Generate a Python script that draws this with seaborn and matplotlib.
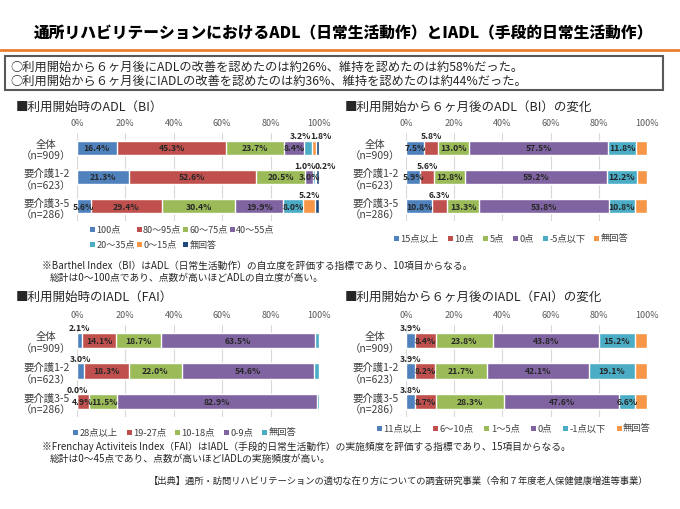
import pandas as pd
import matplotlib
matplotlib.use("Agg")
import matplotlib.pyplot as plt
from matplotlib.patches import Rectangle
from matplotlib.lines import Line2D
import seaborn as sns

sns.set_theme(style="white")
plt.rcParams['font.family'] = ['Noto Sans CJK JP', 'DejaVu Sans']

# ----------------------------------------------------------------------------
# Données
# ----------------------------------------------------------------------------
groups = ['全体\n（n=909）', '要介護1-2\n（n=623）', '要介護3-5\n（n=286）']

adl_start_cats = ['100点', '80〜95点', '60〜75点', '40〜55点', '20〜35点', '0〜15点', '無回答']
adl_start_all = [16.4, 45.3, 23.7, 8.4, 3.2, 1.8, 1.2]
adl_start_12 = [21.3, 52.6, 20.5, 3.0, 1.0, 0.2, 1.4]
adl_start_35 = [5.6, 29.4, 30.4, 19.9, 8.0, 5.2, 1.5]

adl_chg_cats = ['15点以上', '10点', '5点', '0点', '-5点以下', '無回答']
adl_chg_all = [7.5, 5.8, 13.0, 57.5, 11.8, 4.4]
adl_chg_12 = [5.9, 5.6, 12.8, 59.2, 12.2, 4.3]
adl_chg_35 = [10.8, 6.3, 13.3, 53.8, 10.8, 5.0]

iadl_start_cats = ['28点以上', '19-27点', '10-18点', '0-9点', '無回答']
iadl_start_all = [2.1, 14.1, 18.7, 63.5, 1.6]
iadl_start_12 = [3.0, 18.3, 22.0, 54.6, 2.1]
iadl_start_35 = [0.0, 4.9, 11.5, 82.9, 0.7]

iadl_chg_cats = ['11点以上', '6〜10点', '1〜5点', '0点', '-1点以下', '無回答']
iadl_chg_all = [3.9, 8.4, 23.8, 43.8, 15.2, 4.9]
iadl_chg_12 = [3.9, 8.2, 21.7, 42.1, 19.1, 5.0]
iadl_chg_35 = [3.8, 8.7, 28.3, 47.6, 6.6, 5.0]

# couleurs Office
BLUE, RED, GREEN, PURPLE = '#4F81BD', '#C0504D', '#9BBB59', '#8064A2'
AQUA, ORANGE, NAVY = '#4BACC6', '#F79646', '#1F497D'
TXT = '#262626'

W, H = 680, 510


def fx(px):
    return px / W


def fy(py):
    return 1 - py / H


def stacked(ax, cats, rows, colors, inside, above, nudge, bar_w=0.48):
    """Barres empilées horizontales (cumul dessiné du total vers le 1er segment)."""
    df = pd.DataFrame(rows, index=groups, columns=cats)
    cum = df.cumsum(axis=1)
    for i in range(len(cats) - 1, -1, -1):
        sns.barplot(x=cum.iloc[:, i].values, y=groups, color=colors[i],
                    orient='h', width=bar_w, saturation=1, errorbar=None, ax=ax)

    for r in range(len(groups)):
        for i in range(len(cats)):
            v = df.iloc[r, i]
            c = cum.iloc[r, i] - v / 2
            txt = f"{v:.1f}%"
            dx = nudge.get((r, i), 0)
            if (r, i) in above:
                ax.annotate(txt, xy=(c, r - bar_w / 2), xytext=(dx, 0.3),
                            textcoords='offset points', ha='center', va='bottom',
                            fontsize=6.2, fontweight='bold', color=TXT,
                            annotation_clip=False)
            elif (r, i) in inside:
                ax.annotate(txt, xy=(c, r), xytext=(dx, 0), textcoords='offset points',
                            ha='center', va='center', fontsize=6.2,
                            fontweight='bold', color=TXT, annotation_clip=False)

    ax.set_xlim(0, 100)
    ax.set_ylim(2.5, -0.5)
    ax.set_xticks(range(0, 101, 20))
    ax.set_xticklabels([f"{t}%" for t in range(0, 101, 20)])
    ax.xaxis.tick_top()
    ax.tick_params(axis='x', length=0, pad=4, labelsize=6.5, labelcolor='#595959')
    ax.tick_params(axis='y', length=0, pad=4, labelsize=7.5, labelcolor='#404040')
    for lab in ax.get_yticklabels():
        lab.set_multialignment('center')
    ax.grid(axis='x', color='#D9D9D9', lw=0.8)
    ax.grid(axis='y', visible=False)
    ax.set_axisbelow(True)
    for s in ax.spines.values():
        s.set_visible(False)
    ax.set_xlabel('')
    ax.set_ylabel('')


def legend_row(fig, cats, colors, x, y, gap=10, step=None, fs=6.7):
    """Légende façon Excel : carré + texte, sur une ligne."""
    rend = fig.canvas.get_renderer()
    cx = x
    for cat, col in zip(cats, colors):
        fig.add_artist(Rectangle((fx(cx), fy(y + 2.5)), fx(5), 5 / H,
                                 transform=fig.transFigure, facecolor=col, edgecolor='none'))
        t = fig.text(fx(cx + 6.5), fy(y), cat, ha='left', va='center', fontsize=fs, color='#404040')
        if step is None:
            cx += 6.5 + t.get_window_extent(renderer=rend).width + gap
        else:
            cx += step


def idx_set(rows_idx, seg_idx):
    return {(r, i) for r in rows_idx for i in seg_idx}


fig = plt.figure(figsize=(W / 100, H / 100), dpi=100)

# ----------------------------------------------------------------------------
# Titre + encadré
# ----------------------------------------------------------------------------
fig.text(fx(343), fy(34), '通所リハビリテーションにおけるADL（日常生活動作）とIADL（手段的日常生活動作）',
         ha='center', va='center', fontsize=11.3, fontweight='heavy', color='#000000')
fig.add_artist(Line2D([0, 1], [fy(51), fy(51)], transform=fig.transFigure,
                      color='#ED7D31', lw=2))
fig.add_artist(Rectangle((fx(5), fy(91)), fx(658), 34 / H, transform=fig.transFigure,
                         facecolor='none', edgecolor='#595959', lw=1.5))
fig.text(fx(10), fy(67), '○利用開始から６ヶ月後にADLの改善を認めたのは約26%、維持を認めたのは約58%だった。',
         ha='left', va='center', fontsize=8.8, color=TXT)
fig.text(fx(10), fy(81), '○利用開始から６ヶ月後にIADLの改善を認めたのは約36%、維持を認めたのは約44%だった。',
         ha='left', va='center', fontsize=8.8, color=TXT)

# ----------------------------------------------------------------------------
# 1. ADL au début
# ----------------------------------------------------------------------------
fig.text(fx(16), fy(107), '■利用開始時のADL（BI）', ha='left', va='center', fontsize=9, color=TXT)
ax1 = fig.add_axes([fx(77), fy(222), fx(242), 88 / H])
c1 = [BLUE, RED, GREEN, PURPLE, AQUA, ORANGE, NAVY]
inside1 = idx_set([0, 1, 2], [0, 1, 2, 3]) | {(2, 4)}
above1 = {(0, 4), (0, 5), (1, 4), (1, 5), (2, 5)}
nudge1 = {(0, 4): -5, (0, 5): 5, (1, 4): -6.2, (1, 5): 7.2}
stacked(ax1, adl_start_cats, [adl_start_all, adl_start_12, adl_start_35], c1,
        inside1, above1, nudge1)
legend_row(fig, adl_start_cats[:4], c1[:4], 90, 230, step=46.5, fs=6.5)
legend_row(fig, adl_start_cats[4:], c1[4:], 90, 245, step=46.5, fs=6.5)

# ----------------------------------------------------------------------------
# 2. ADL variation
# ----------------------------------------------------------------------------
fig.text(fx(345), fy(107), '■利用開始から６ヶ月後のADL（BI）の変化', ha='left', va='center',
         fontsize=9, color=TXT)
ax2 = fig.add_axes([fx(406), fy(222), fx(241), 88 / H])
c2 = [BLUE, RED, GREEN, PURPLE, AQUA, ORANGE]
inside2 = idx_set([0, 1, 2], [0, 2, 3, 4])
above2 = idx_set([0, 1, 2], [1])
stacked(ax2, adl_chg_cats, [adl_chg_all, adl_chg_12, adl_chg_35], c2,
        inside2, above2, {})
legend_row(fig, adl_chg_cats, c2, 394, 239, gap=9)

# notes BI
fig.text(fx(42), fy(266), '※Barthel Index（BI）はADL（日常生活動作）の自立度を評価する指標であり、10項目からなる。',
         ha='left', va='center', fontsize=7, color=TXT)
fig.text(fx(50), fy(278), '総計は0〜100点であり、点数が高いほどADLの自立度が高い。',
         ha='left', va='center', fontsize=7, color=TXT)

# ----------------------------------------------------------------------------
# 3. IADL au début
# ----------------------------------------------------------------------------
fig.text(fx(16), fy(297), '■利用開始時のIADL（FAI）', ha='left', va='center', fontsize=9, color=TXT)
ax3 = fig.add_axes([fx(77), fy(418), fx(242), 92 / H])
c3 = [BLUE, RED, GREEN, PURPLE, AQUA]
inside3 = idx_set([0, 1, 2], [1, 2, 3])
above3 = idx_set([0, 1, 2], [0])
nudge3 = {(2, 1): -0.5, (2, 2): 1.2}
stacked(ax3, iadl_start_cats, [iadl_start_all, iadl_start_12, iadl_start_35], c3,
        inside3, above3, nudge3, bar_w=0.5)
legend_row(fig, iadl_start_cats, c3, 73, 433, gap=9)

# ----------------------------------------------------------------------------
# 4. IADL variation
# ----------------------------------------------------------------------------
fig.text(fx(345), fy(297), '■利用開始から６ヶ月後のIADL（FAI）の変化', ha='left', va='center',
         fontsize=9, color=TXT)
ax4 = fig.add_axes([fx(406), fy(418), fx(241), 92 / H])
c4 = [BLUE, RED, GREEN, PURPLE, AQUA, ORANGE]
inside4 = idx_set([0, 1, 2], [1, 2, 3, 4])
above4 = idx_set([0, 1, 2], [0])
stacked(ax4, iadl_chg_cats, [iadl_chg_all, iadl_chg_12, iadl_chg_35], c4,
        inside4, above4, {}, bar_w=0.5)
legend_row(fig, iadl_chg_cats, c4, 377, 429, gap=11)

# notes FAI + source
fig.text(fx(42), fy(447), '※Frenchay Activiteis Index（FAI）はIADL（手段的日常生活動作）の実施頻度を評価する指標であり、15項目からなる。',
         ha='left', va='center', fontsize=7, color=TXT)
fig.text(fx(50), fy(459), '総計は0〜45点であり、点数が高いほどIADLの実施頻度が高い。',
         ha='left', va='center', fontsize=7, color=TXT)
fig.text(fx(648), fy(481), '【出典】通所・訪問リハビリテーションの適切な在り方についての調査研究事業（令和７年度老人保健健康増進等事業）',
         ha='right', va='center', fontsize=6.7, color=TXT)

fig.savefig('out.png', dpi=100)
plt.close(fig)
